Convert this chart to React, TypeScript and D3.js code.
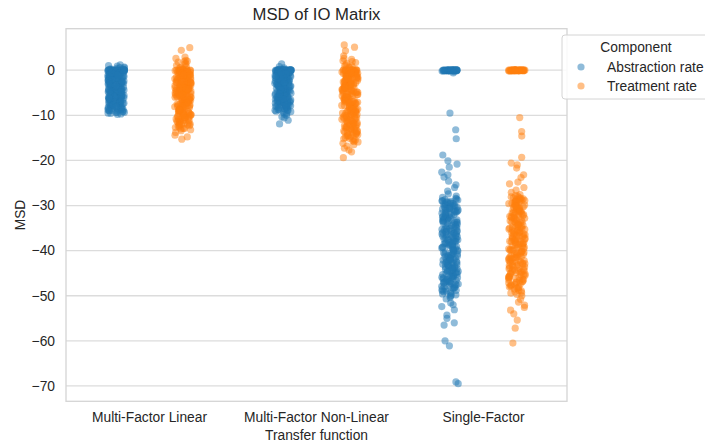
import React from "react";
import * as d3 from "d3";

const CATEGORIES = ["Multi-Factor Linear", "Multi-Factor Non-Linear", "Single-Factor"];
const HUES = ["Abstraction rate", "Treatment rate"];
const COLORS = ["#1f77b4", "#ff7f0e"];
const Y_TICKS = [0, -10, -20, -30, -40, -50, -60, -70];

const MFL_ABSTRACTION = [
  0, 0, -0.1, 0, -0.2, 0.1, 0, -0.1, 0, -0.3, 0, 0.2, -0.1, 0, 0, -0.2, 0.1, 0, -0.1, 0,
  0.6, 1.2, 0.9, 0.4, 1.0, 0.3,
  -0.7, -1.3, -2.2, -0.9, -3.1, -4.4, -1.8, -5.2, -2.7, -6.1, -3.6, -7.3, -4.9, -0.5, -8.2, -2.5,
  -5.8, -1.1, -6.7, -3.9, -7.9, -4.2, -9.1, -1.6, -5.4, -8.7, -2.9, -6.4, -3.3, -7.6, -0.8, -4.7,
  -9.6, -2.1, -5.9, -1.4, -6.9, -3.5, -8.4, -4.0, -7.1, -1.9, -5.1, -9.3, -2.6, -6.3, -0.4, -4.5,
  -8.0, -3.0, -7.4, -1.2, -5.6, -9.8, -2.3, -6.6, -3.8, -8.9, -4.3, -7.0, -1.7, -5.0, -0.6, -6.0,
  -2.8, -8.5, -3.4, -4.8, -7.7, -1.0, -5.3, -9.4, -2.4, -6.8, -3.7, -8.1, -0.9, -4.1, -7.2, -1.5,
  -5.7, -2.0, -6.2, -3.2, -8.8, -4.6, -9.0, -7.5,
  0, -0.1, 0, 0, -0.2, 0, 0.1, -0.1, 0, 0, 0.7, 0.5,
  -1.1, -4.2, -7.5, -2.9, -6.0, -0.8, -5.1, -8.3, -3.6, -1.7, -6.9, -4.8, -2.2, -9.2, -5.5, -0.6,
  -7.8, -3.0, -6.4, -1.3, -4.5, -8.7, -2.6, -5.8, -7.1, -3.3, -0.9, -6.6, -4.0, -9.5, -1.9, -5.2,
  -8.0, -2.4, -7.3, -3.9, -0.5, -6.2, -4.7, -1.5, -8.5, -5.0, -2.8, -7.0, -3.5, -9.0, -1.0, -6.8,
  -4.4, -2.0, -5.7, -8.2, -3.1, -0.7, -7.6, -4.9, -1.6, -6.1, -2.5, -8.9, -5.4, -3.7, -0.4, -7.2,
  -4.1, -1.2, -6.5, -2.3, -9.3, -5.9, -3.2, -8.4, -1.8, -7.9, -4.6, -0.8, -6.7, -2.7, -5.3, -3.8,
  -8.6, -1.4, -7.4, -4.3, -2.1, -6.3, -9.7, -5.6, -3.4, -0.6, -7.7, -4.8, -1.1, -6.0, -2.9, -8.1,
];

const MFL_TREATMENT = [
  5.0, 4.4, 2.6, 2.2, 1.8, 2.9, 1.5, 2.0,
  0, -0.1, 0, -0.2, 0.1, 0, -0.3, 0.2, 0, -0.1, 0.5, 1.1, 0.8,
  -0.8, -2.6, -1.3, -4.1, -6.7, -3.2, -8.4, -5.5, -10.2, -1.9, -7.1, -3.8, -11.5, -5.0, -9.3, -0.5,
  -6.2, -2.2, -8.9, -4.6, -12.1, -1.6, -7.7, -3.4, -10.7, -5.9, -0.9, -9.8, -2.9, -6.5, -4.3, -11.0,
  -1.1, -8.0, -3.6, -5.3, -12.6, -7.4, -2.0, -9.5, -4.9, -0.7, -6.9, -3.0, -10.4, -1.8, -8.6, -5.7,
  -11.8, -2.4, -7.0, -4.0, -9.1, -1.4, -6.0, -3.3, -10.9, -5.1, -0.4, -8.3, -2.7, -7.9, -4.4, -12.3,
  -1.0, -6.4, -3.9, -9.7, -5.6, -2.1, -8.8, -0.6, -7.3, -4.7, -11.2, -1.5, -6.6, -3.1, -10.0, -5.2,
  -2.5, -8.1, -4.2, -9.9, -1.2, -7.6, -3.5, -11.4, -5.8, -0.3, -6.1, -2.8, -10.5, -4.5, -8.7, -1.7,
  -7.2, -3.7, -12.0,
  -13.0, -13.4, -12.9, -14.4, -15.3, -13.8, -14.8,
  0, 0.1, -0.1, 0, 0.3, 1.4, 0.6, 1.9, -0.2, 0,
  -1.2, -5.4, -9.0, -3.5, -7.8, -11.3, -0.6, -6.3, -2.6, -10.1, -4.8, -8.5, -1.7, -12.2, -5.9, -3.0,
  -9.6, -7.0, -0.9, -4.2, -11.7, -2.1, -6.8, -8.9, -1.3, -5.1, -10.6, -3.8, -7.5, -0.5, -12.7, -4.5,
  -9.2, -2.4, -6.0, -11.0, -1.0, -8.2, -3.2, -5.6, -10.3, -7.2, -0.8, -4.0, -12.4, -2.9, -9.9, -6.5,
  -1.6, -8.0, -3.6, -11.5, -5.2, -0.4, -7.7, -2.3, -10.8, -4.7, -9.4, -1.9, -6.2, -12.0, -3.3, -8.6,
  -5.7, -0.7, -11.1, -2.7, -7.3, -4.3, -9.7, -1.4, -6.7, -10.0, -3.9, -8.3, -5.0, -0.3, -12.9, -2.0,
  -7.9, -4.9, -11.9, -1.1, -6.4, -9.1, -3.1, -10.5, -5.4, -2.5, -8.8, -0.9, -7.1, -4.1, -13.2,
];

const MFNL_ABSTRACTION = [
  1.4, 0.8, 0.5,
  0, -0.1, 0, 0, -0.2, 0.1, 0, -0.1, 0, 0, -0.3, 0, 0.1, -0.1, 0, 0, -0.2, 0, -0.1, 0, 0, 0.1, -0.1,
  0, -0.2,
  -0.6, -1.2, -2.5, -3.7, -0.9, -4.8, -2.0, -5.9, -1.5, -7.0, -3.1, -8.1, -4.3, -0.7, -6.4, -2.8,
  -7.6, -1.1, -5.2, -3.4, -8.6, -4.0, -6.9, -1.8, -5.5, -2.3, -7.9, -3.9, -0.5, -6.1, -4.6, -8.3,
  -1.3, -5.0, -2.9, -7.3, -3.6, -6.6, -1.0, -4.4, -8.9, -2.1, -5.7, -3.0, -7.1, -0.8, -6.2, -4.1,
  -8.0, -1.6, -5.3, -2.6, -7.5, -3.3, -6.8, -1.4, -4.9, -8.5, -2.4, -5.8, -0.4, -3.8, -7.7, -4.7,
  -6.3, -1.9, -5.1, -2.7, -8.8, -3.5, -6.0, -1.2, -4.5, -7.2, -2.2, -9.1, -0.6, -5.6, -3.2, -6.7,
  -9.4, -9.8, -10.3, -10.6, -11.1, -11.9, -9.6, -10.0,
  0, 0, -0.1, 0, 0.1, -0.2, 0, 0, -0.1, 0, 0, -0.1, 0.2, 0,
  -0.9, -3.2, -6.5, -1.7, -4.9, -8.2, -2.6, -5.6, -0.6, -7.4, -3.9, -1.2, -6.0, -8.7, -2.1, -4.4,
  -7.0, -0.8, -5.2, -3.0, -8.0, -1.5, -6.7, -4.0, -2.4, -7.8, -0.5, -5.8, -3.5, -8.4, -1.9, -6.2,
  -4.7, -1.0, -7.2, -2.8, -5.4, -0.7, -3.7, -6.9, -8.9, -2.2, -4.2, -7.6, -1.4, -5.0, -3.3, -8.1,
  -0.9, -6.4, -2.5, -4.8, -7.1, -1.7, -5.7, -3.1, -8.6, -0.4, -6.1, -2.0, -4.5, -7.4, -1.1, -5.5,
  -3.8, -6.6, -2.9, -8.3, -0.6, -4.1, -7.0, -1.8, -5.1, -3.4, -6.8, -2.3, -8.8, -1.3, -4.6, -7.7,
  -0.8, -5.9, -3.6, -6.3, -2.7, -9.2, -1.6, -4.3, -7.9, -0.5, -5.3,
];

const MFNL_TREATMENT = [
  5.6, 5.1, 4.3, 3.2, 2.6, 2.1, 1.7, 2.4,
  0, 0, -0.1, 0.1, 0, -0.2, 0, 0.1, -0.1, 0, 0.5, 0.9, 1.2,
  -0.8, -3.3, -1.6, -5.9, -8.4, -2.4, -10.9, -4.7, -13.5, -7.2, -1.1, -9.7, -3.8, -12.3, -6.1, -14.8,
  -2.0, -8.9, -5.2, -11.4, -0.5, -7.8, -3.0, -10.1, -15.6, -4.4, -12.8, -6.7, -1.4, -9.3, -2.7, -13.9,
  -5.6, -11.0, -0.7, -8.1, -4.0, -14.2, -6.4, -1.9, -10.5, -3.5, -12.0, -7.5, -5.0, -15.1, -2.2, -9.0,
  -0.9, -13.1, -6.9, -4.2, -11.7, -1.2, -8.6, -3.1, -14.5, -5.4, -10.3, -7.0, -2.5, -12.6, -0.4, -9.5,
  -4.8, -13.7, -6.2, -1.7, -11.2, -3.7, -8.2, -15.3, -5.8, -2.9, -10.7, -7.3, -0.6, -12.4, -4.5, -9.9,
  -1.5, -14.0, -6.6, -3.4, -11.5, -8.8, -2.1, -13.2, -5.3, -7.7, -1.0, -10.0, -4.1, -12.9, -6.0, -9.2,
  -2.6, -14.3, -3.9, -7.9,
  -16.2, -16.8, -17.3, -16.5, -18.1, -19.4, -17.7, -15.9,
  0, -0.1, 0, 0.2, 0, 0.7, 1.5, 1.0, 1.9, 0, -0.2,
  -1.3, -6.3, -11.6, -3.6, -8.8, -14.1, -0.6, -5.4, -10.2, -2.3, -7.6, -12.7, -4.5, -9.6, -1.8, -15.2,
  -6.7, -3.1, -11.9, -8.0, -0.9, -5.0, -13.3, -2.8, -10.8, -7.1, -4.1, -14.6, -1.5, -9.1, -6.0, -12.1,
  -3.4, -0.5, -8.5, -5.7, -13.8, -2.0, -10.5, -7.4, -4.7, -15.8, -1.0, -9.4, -6.4, -11.3, -3.2, -12.9,
  -8.3, -0.8, -5.2, -14.9, -2.6, -10.0, -7.8, -4.3, -13.0, -1.6, -9.8, -6.1, -11.8, -3.7, -0.4, -8.7,
  -5.9, -14.4, -2.2, -12.2, -7.2, -4.9, -10.7, -1.2, -9.0, -6.8, -13.6, -3.0, -0.7, -11.1, -5.5, -15.5,
  -2.4, -8.1, -4.0, -12.5, -1.9, -10.4, -7.0, -3.9, -14.0, -6.5, -9.5, -0.6, -11.6, -4.6, -13.4,
];

const SF_ABSTRACTION = [
  0, 0, -0.1, 0, -0.1, 0, 0, -0.2, 0, 0, -0.1, 0, 0, 0, -0.1, 0, -0.2, 0, 0, -0.1, 0, 0, 0, -0.1,
  0, 0, -0.3, 0, 0, -0.1, 0, 0, -0.1, 0, 0, 0, -0.2, 0, -0.1, 0, -0.6,
  -9.5, -13.2, -15.2, -18.8, -20.1, -20.8, -21.5, -22.6, -23.2, -23.7, -24.6, -25.4, -26.0, -26.8,
  -27.4, -27.9,
  -28.4, -33.1, -40.2, -45.6, -30.7, -37.9, -48.3, -29.5, -42.8, -35.0, -50.1, -31.6, -46.9, -38.6,
  -29.0, -44.1, -34.2, -41.5, -49.0, -32.5, -39.7, -36.3, -47.4, -30.1, -43.4, -28.8, -45.0, -33.8,
  -40.9, -37.2, -49.6, -31.0, -42.1, -35.7, -46.2, -29.8, -38.1, -44.7, -32.0, -48.8, -36.8, -41.0,
  -34.6, -47.8, -30.4, -43.9, -39.1, -28.6, -45.9, -33.4, -40.5, -37.6, -50.4, -31.3, -42.4, -35.3,
  -46.6, -29.3, -38.9, -44.4, -32.9, -48.0, -36.0, -41.8, -34.0, -47.1, -30.9, -43.1, -39.4, -49.3,
  -28.2, -45.3, -33.6, -40.0, -37.4, -31.9, -42.6, -35.5, -46.4, -29.6, -38.4, -44.9, -32.3, -48.5,
  -36.5, -41.3, -34.4, -47.6, -30.5, -43.6, -39.9, -45.1, -33.0, -40.7, -37.0, -50.7, -31.5, -42.3,
  -35.9, -46.0, -29.1, -38.7, -44.2, -32.7, -49.8, -36.2, -41.6, -34.8, -47.3, -30.2, -43.3, -39.3,
  -28.9, -45.7, -33.3, -40.4, -37.8, -31.2, -42.9, -35.1, -46.8, -29.9, -38.2, -44.6, -32.2, -48.2,
  -36.7, -41.1,
  -34.9, -41.9, -30.6, -46.7, -37.3, -43.8, -32.8, -39.0, -48.9, -35.8, -28.7, -44.0, -40.6, -31.4,
  -47.0, -36.9, -42.7, -33.5, -49.5, -38.5, -29.7, -45.4, -35.4, -41.2, -30.3, -46.3, -37.7, -43.0,
  -32.1, -39.6, -48.4, -34.1, -44.8, -36.4, -42.0, -29.4, -47.5, -38.0, -31.8, -45.8, -40.1, -33.7,
  -49.1, -35.6, -43.5, -30.8, -41.4, -37.1, -46.5, -32.6, -39.2, -44.3, -34.7, -48.1, -36.1, -42.5,
  -29.2, -45.5, -38.8, -31.1, -47.9, -40.8, -33.2, -43.7, -35.2, -41.7, -30.0, -46.1, -37.5, -44.5,
  -32.4, -39.8, -49.9, -34.3, -42.2, -36.6, -45.2, -31.7, -38.3, -47.2, -33.9, -40.3, -29.5, -43.2,
  -35.8, -48.6, -37.9, -41.9, -30.7, -46.9, -39.5, -33.4, -44.0, -36.3, -42.8, -31.0, -38.6, -45.9,
  -51.6, -52.4, -53.1, -54.3, -55.0, -56.0, -56.5, -52.0, -60.0, -61.1, -69.1, -69.5,
];

const SF_TREATMENT = [
  0, 0, -0.1, 0, 0, -0.1, 0, 0, -0.2, 0, 0, 0, -0.1, 0, 0, -0.1, 0, 0, 0, -0.2, 0, -0.1, 0, 0,
  0, -0.1, 0, 0, -0.1, 0, 0, 0, -0.2, 0, 0, -0.1, 0, 0, -0.1, 0,
  -10.5, -13.6, -14.6, -19.3, -20.6, -21.0, -21.7, -23.2, -23.8, -24.8, -25.2, -26.0, -26.6, -27.1,
  -27.8, -32.4, -39.5, -44.8, -30.0, -37.1, -47.5, -28.7, -42.0, -34.3, -49.4, -30.9, -46.1, -37.8,
  -28.3, -43.3, -33.5, -40.7, -48.2, -31.8, -38.9, -35.6, -46.6, -29.4, -42.6, -28.1, -44.2, -33.1,
  -40.1, -36.4, -48.8, -30.3, -41.3, -35.0, -45.4, -29.1, -37.4, -43.9, -31.3, -48.0, -36.1, -40.3,
  -33.9, -47.0, -29.7, -43.1, -38.3, -27.9, -45.1, -32.7, -39.8, -36.8, -49.7, -30.6, -41.7, -34.6,
  -45.8, -28.5, -38.1, -43.6, -32.1, -47.2, -35.3, -41.0, -33.2, -46.3, -30.2, -42.3, -38.6, -48.5,
  -27.6, -44.5, -32.9, -39.2, -36.6, -31.1, -41.9, -34.8, -45.6, -28.9, -37.7, -44.1, -31.6, -47.7,
  -35.8, -40.5, -33.7, -46.9, -29.8, -42.8, -39.0, -44.3, -32.3, -39.9, -36.2, -50.0, -30.8, -41.5,
  -35.2, -45.2, -28.4, -37.9, -43.4, -31.9, -49.1, -35.5, -40.8, -34.1, -46.5, -29.5, -42.5, -38.5,
  -33.6, -40.9, -29.9, -45.9, -36.5, -42.9, -31.5, -38.4, -48.1, -34.9, -28.2, -43.2, -39.7, -30.5,
  -46.2, -36.0, -41.6, -32.6, -48.9, -37.6, -29.0, -44.7, -34.4, -40.2, -30.1, -45.5, -36.9, -42.1,
  -31.2, -38.8, -47.4, -33.3, -44.0, -35.7, -41.1, -28.8, -46.8, -37.3, -30.9, -45.0, -39.4, -32.8,
  -48.3, -34.7, -42.4, -29.6, -40.6, -36.3, -46.0, -31.7, -38.0, -43.8, -33.8, -47.6, -35.1, -41.8,
  -28.6, -44.9, -37.9, -30.4, -47.1, -39.6, -32.5, -42.7, -34.2, -40.0, -29.2, -45.3, -36.7, -43.5,
  -31.4, -38.7, -49.3, -33.4, -41.4, -35.9, -44.4, -30.7, -37.2, -46.4, -32.0, -39.3, -28.9, -42.2,
  -34.5, -47.9, -36.8, -40.4, -29.3, -45.7, -38.2, -32.2, -43.0, -35.4, -41.5, -30.0, -37.5, -44.6,
  -50.8, -51.4, -52.1, -53.2, -52.6, -54.0, -55.4, -57.2, -60.5,
];

// group order: [category][hue]
const GROUPS = [
  [MFL_ABSTRACTION, MFL_TREATMENT],
  [MFNL_ABSTRACTION, MFNL_TREATMENT],
  [SF_ABSTRACTION, SF_TREATMENT],
];

const W = 705;
const H = 445;
const PLOT = { left: 66, right: 567, top: 28.7, bottom: 401.3 };
const FONT = "'Liberation Sans', Arial, 'DejaVu Sans', sans-serif";
const TEXT = "#262626";

export default function App() {
  const x = d3.scaleBand<string>().domain(CATEGORIES).range([PLOT.left, PLOT.right]).padding(0);
  const bw = x.bandwidth();
  const hueScale = d3.scaleBand<string>().domain(HUES).range([-0.4 * bw, 0.4 * bw]).padding(0);
  const y = d3.scaleLinear().domain([-73.4, 9.2]).range([PLOT.bottom, PLOT.top]);
  const fmt = d3.format("d");
  const jitterAmp = 0.05 * bw;

  const points: { cx: number; cy: number; color: string; key: string }[] = [];
  CATEGORIES.forEach((cat, ci) => {
    HUES.forEach((hue, hi) => {
      const center = (x(cat) as number) + bw / 2 + (hueScale(hue) as number) + hueScale.bandwidth() / 2;
      // deterministic strip-plot jitter (horizontal placement only)
      const jitter = d3.randomUniform.source(d3.randomLcg(0.137 + ci * 0.29 + hi * 0.11))(-1, 1);
      GROUPS[ci][hi].forEach((v, i) => {
        points.push({
          cx: center + jitter() * jitterAmp,
          cy: y(v),
          color: COLORS[hi],
          key: `${ci}-${hi}-${i}`,
        });
      });
    });
  });

  return (
    <div style={{ position: "fixed", left: 0, top: 0, width: W, height: H, background: "#fff" }}>
      <svg width={W} height={H} style={{ display: "block", fontFamily: FONT }}>
        <rect x={0} y={0} width={W} height={H} fill="#fff" />
        {Y_TICKS.map((t) => (
          <g key={t}>
            <line x1={PLOT.left} x2={PLOT.right} y1={y(t)} y2={y(t)} stroke="#dcdcdc" strokeWidth={1.3} />
            <text x={55} y={y(t)} dy="0.35em" textAnchor="end" fontSize={13.8} fill={TEXT}>
              {fmt(t)}
            </text>
          </g>
        ))}
        <rect
          x={PLOT.left}
          y={PLOT.top}
          width={PLOT.right - PLOT.left}
          height={PLOT.bottom - PLOT.top}
          fill="none"
          stroke="#d4d4d4"
          strokeWidth={1.3}
        />
        {points.map((p) => (
          <circle key={p.key} cx={p.cx} cy={p.cy} r={3.6} fill={p.color} fillOpacity={0.5} />
        ))}
        {CATEGORIES.map((c) => (
          <text key={c} x={(x(c) as number) + bw / 2} y={421.5} textAnchor="middle" fontSize={13.8} fill={TEXT}>
            {c}
          </text>
        ))}
        <text x={(PLOT.left + PLOT.right) / 2} y={440} textAnchor="middle" fontSize={13.8} fill={TEXT}>
          Transfer function
        </text>
        <text
          transform={`translate(20,${(PLOT.top + PLOT.bottom) / 2}) rotate(-90)`}
          textAnchor="middle"
          dy="0.35em"
          fontSize={13.8}
          fill={TEXT}
        >
          MSD
        </text>
        <text x={(PLOT.left + PLOT.right) / 2} y={20} textAnchor="middle" fontSize={16.7} fill={TEXT}>
          MSD of IO Matrix
        </text>
        <g>
          <rect x={562} y={35} width={148} height={64} rx={3} fill="#fff" fillOpacity={0.85} stroke="#d4d4d4" strokeWidth={1} />
          <text x={636} y={47} dy="0.35em" textAnchor="middle" fontSize={13.8} fill={TEXT}>
            Component
          </text>
          {HUES.map((h, i) => (
            <g key={h}>
              <circle cx={581} cy={67 + i * 19} r={3.6} fill={COLORS[i]} fillOpacity={0.5} />
              <text x={607} y={67 + i * 19} dy="0.35em" fontSize={13.8} fill={TEXT}>
                {h}
              </text>
            </g>
          ))}
        </g>
      </svg>
    </div>
  );
}
